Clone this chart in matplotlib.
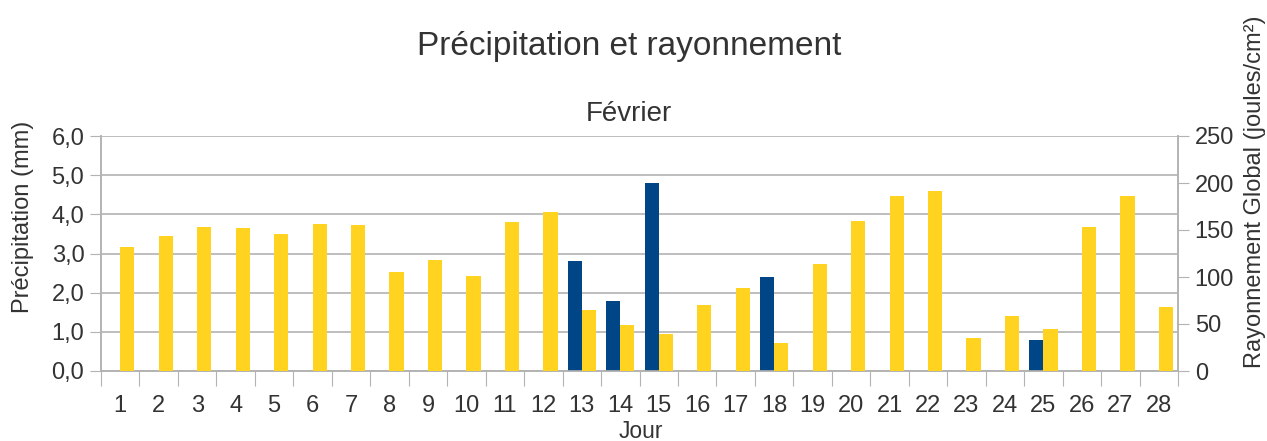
import numpy as np
import matplotlib
matplotlib.use('Agg')
import matplotlib.pyplot as plt
from matplotlib.ticker import FuncFormatter

plt.rcParams['font.family'] = ['Liberation Sans', 'DejaVu Sans']

# données de février
jours = list(range(1, 29))
precipitation = [0, 0, 0, 0, 0, 0, 0, 0, 0, 0, 0, 0, 2.8, 1.8, 4.8, 0,
                 0, 2.4, 0, 0, 0, 0, 0, 0, 0.8, 0, 0, 0]
rayonnement = [132, 144, 153, 152, 146, 156, 155, 105, 118, 101, 158, 169,
               65, 49, 39, 70, 88, 30, 114, 160, 186, 191, 35, 59, 45, 153, 186, 68]

bleu = '#004586'
jaune = '#ffd320'
texte = '#333333'
gris = '#b3b3b3'

W, H = 1267, 441
fig = plt.figure(figsize=(W / 100, H / 100), dpi=100)
ax1 = fig.add_axes([101 / W, 70 / H, (1178 - 101) / W, (371 - 136) / H])
ax2 = ax1.twinx()

x = np.array(jours)
largeur = 0.37
ax1.bar(x - largeur / 2, precipitation, largeur, color=bleu, zorder=3)
ax2.bar(x + largeur / 2, rayonnement, largeur, color=jaune, zorder=3)

ax1.set_xlim(0.5, 28.5)
ax1.set_ylim(0, 6)
ax2.set_ylim(0, 250)
ax1.set_yticks(np.arange(0, 6.1, 1))
ax2.set_yticks(np.arange(0, 251, 50))
ax1.yaxis.set_major_formatter(FuncFormatter(lambda v, p: f'{v:.1f}'.replace('.', ',')))

# graduations entre les jours, étiquettes au centre
ax1.set_xticks(np.arange(0.5, 29, 1))
ax1.set_xticklabels([])
ax1.set_xticks(x, minor=True)
ax1.set_xticklabels([str(j) for j in jours], minor=True)
ax1.tick_params(axis='x', which='major', length=11, color=gris, direction='out')
ax1.tick_params(axis='x', which='minor', length=0, pad=17, labelsize=17, labelcolor=texte)
ax1.tick_params(axis='y', length=8, color=gris, labelsize=17, labelcolor=texte, pad=4)
ax2.tick_params(axis='y', length=8, color=gris, labelsize=17, labelcolor=texte, pad=4)

ax1.grid(axis='y', color=gris, linewidth=1.2, zorder=0)
ax1.set_axisbelow(True)
for a in (ax1, ax2):
    a.spines['top'].set_visible(False)
    for s in ('left', 'right', 'bottom'):
        a.spines[s].set_color(gris)
        a.spines[s].set_linewidth(1.2)

fig.text(629 / W, 1 - 47 / H, 'Précipitation et rayonnement', ha='center', va='center',
         fontsize=24, color=texte)
fig.text(629 / W, 1 - 114 / H, 'Février', ha='center', va='center', fontsize=20, color=texte)
fig.text(641 / W, 1 - 431 / H, 'Jour', ha='center', va='center', fontsize=16.5, color=texte)
fig.text(23 / W, 1 - 217 / H, 'Précipitation (mm)', ha='center', va='center',
         rotation=90, fontsize=17, color=texte)
fig.text(1255 / W, 1 - 192 / H, 'Rayonnement Global (joules/cm²)', ha='center', va='center',
         rotation=90, fontsize=17, color=texte)

fig.savefig('out.png', dpi=100)
